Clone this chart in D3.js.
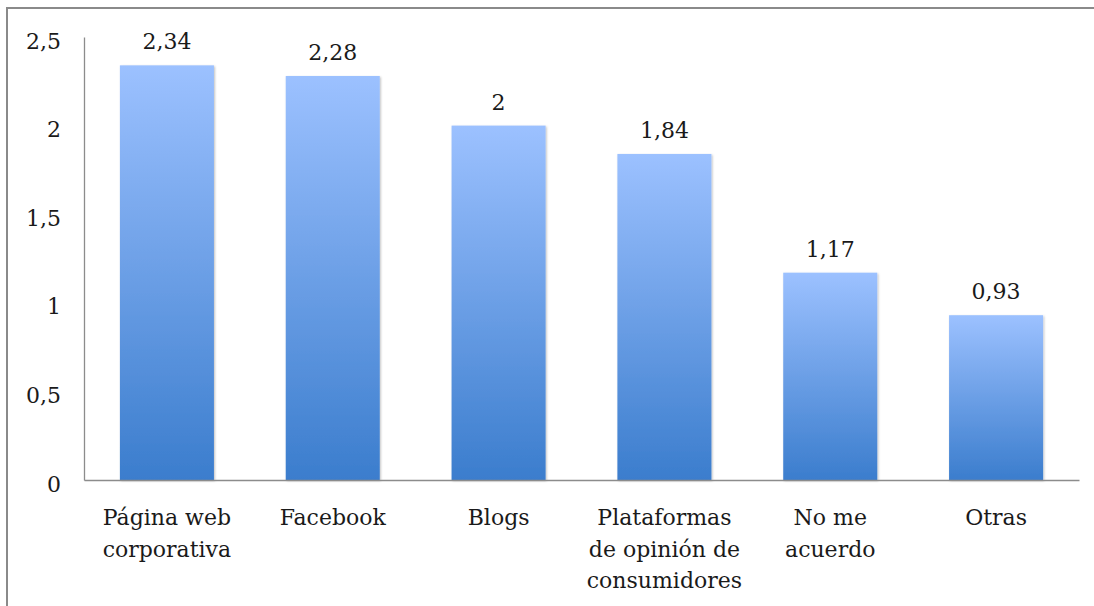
<!DOCTYPE html>
<html>
<head>
<meta charset="utf-8">
<script src="https://cdn.jsdelivr.net/npm/d3@7"></script>
<style>
  body { margin: 0; background: #fff; }
  text { font-family: "DejaVu Serif", serif; fill: #1a1a1a; }
</style>
</head>
<body>
<div id="chart-div"></div>
<script>
// chart data
var categories = ["Página web|corporativa", "Facebook", "Blogs", "Plataformas|de opinión de|consumidores", "No me|acuerdo", "Otras"];
var values = [2.34, 2.28, 2, 1.84, 1.17, 0.93];
var valueLabels = ["2,34", "2,28", "2", "1,84", "1,17", "0,93"];
var yTicks = [0, 0.5, 1, 1.5, 2, 2.5];

var W = 1094, H = 606;
var margin = {top: 37, right: 15, bottom: 126, left: 84};
var width = W - margin.left - margin.right;
var height = H - margin.top - margin.bottom;

var svg = d3.select('#chart-div').append('svg')
  .attr('width', W)
  .attr('height', H);

// outer frame (only top/left visible in the picture)
svg.append('rect')
  .attr('x', 7).attr('y', 8)
  .attr('width', W + 10).attr('height', H + 10)
  .attr('fill', 'none')
  .attr('stroke', '#8a8a8a')
  .attr('stroke-width', 2);

var defs = svg.append('defs');
var grad = defs.append('linearGradient')
  .attr('id', 'barGrad')
  .attr('x1', 0).attr('y1', 0).attr('x2', 0).attr('y2', 1);
grad.append('stop').attr('offset', '0%').attr('stop-color', '#9cc1ff');
grad.append('stop').attr('offset', '100%').attr('stop-color', '#3b7dcd');

var shadow = defs.append('filter').attr('id', 'shadow')
  .attr('x', '-10%').attr('y', '-10%').attr('width', '130%').attr('height', '130%');
shadow.append('feDropShadow')
  .attr('dx', 1).attr('dy', 1).attr('stdDeviation', 1.2)
  .attr('flood-color', '#000').attr('flood-opacity', 0.25);

var g = svg.append('g')
  .attr('transform', 'translate(' + margin.left + ',' + margin.top + ')');

var x = d3.scaleBand()
  .domain(categories)
  .range([0, width])
  .paddingInner(0.433)
  .paddingOuter(0.2165);

var y = d3.scaleLinear()
  .domain([0, 2.5])
  .range([height, 0]);

// bars
g.selectAll('rect.bar')
  .data(values)
  .enter().append('rect')
    .attr('class', 'bar')
    .attr('x', function(d, i) { return x(categories[i]); })
    .attr('y', function(d) { return y(d); })
    .attr('width', x.bandwidth())
    .attr('height', function(d) { return height - y(d); })
    .attr('fill', 'url(#barGrad)')
    .attr('filter', 'url(#shadow)');

// value labels
g.selectAll('text.val')
  .data(values)
  .enter().append('text')
    .attr('class', 'val')
    .attr('x', function(d, i) { return x(categories[i]) + x.bandwidth() / 2; })
    .attr('y', function(d) { return y(d) - 16; })
    .attr('text-anchor', 'middle')
    .style('font-size', '22px')
    .text(function(d, i) { return valueLabels[i]; });

// y axis
var yAxis = d3.axisLeft(y)
  .tickValues(yTicks)
  .tickSize(0)
  .tickPadding(23)
  .tickFormat(function(d) { return String(d).replace('.', ','); });

var yg = g.append('g').call(yAxis);
yg.select('.domain').attr('stroke', '#8c8c8c').attr('stroke-width', 1.3);
yg.selectAll('text').style('font-size', '22px').attr('fill', '#1a1a1a').attr('dy', '0.5em');

// x axis
var xAxis = d3.axisBottom(x).tickSize(0).tickPadding(0).tickFormat('');
var xg = g.append('g')
  .attr('transform', 'translate(0,' + height + ')')
  .call(xAxis);
xg.select('.domain').attr('stroke', '#8c8c8c').attr('stroke-width', 1.3);

xg.selectAll('.tick').each(function(d) {
  var lines = d.split('|');
  var t = d3.select(this).append('text')
    .attr('text-anchor', 'middle')
    .style('font-size', '22px')
    .attr('fill', '#1a1a1a');
  lines.forEach(function(l, i) {
    t.append('tspan')
      .attr('x', 0)
      .attr('y', 45 + i * 31.5)
      .text(l);
  });
});
</script>
</body>
</html>
